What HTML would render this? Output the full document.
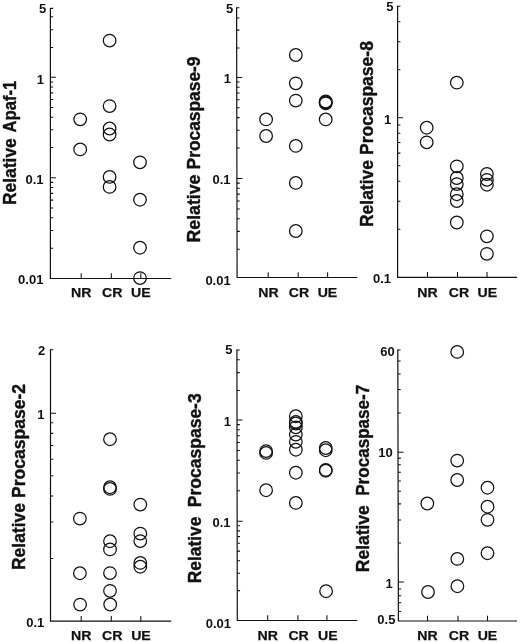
<!DOCTYPE html>
<html lang="en">
<head>
<meta charset="utf-8">
<title>Relative protein expression by response group</title>
<style>
html,body{margin:0;padding:0;background:#fff;}
body{width:520px;height:642px;overflow:hidden;}
svg{display:block;will-change:transform;}
svg text{font-family:"Liberation Sans", Arial, Helvetica, sans-serif;font-weight:bold;fill:#111;stroke:#111;stroke-width:0.25;}
svg text.tk{stroke-width:0;}
svg text.ti{stroke-width:0.4;}
svg circle{fill:none;stroke:#111;stroke-width:1.25;}
</style>
</head>
<body>
<svg width="520" height="642" viewBox="0 0 520 642">
<rect width="520" height="642" fill="#fff"/>
<path d="M50.4 7.9L50.4 278.5H171.3" fill="none" stroke="#111" stroke-width="1.2" stroke-linejoin="miter"/>
<path d="M50.4 248.17h2.8M50.4 230.43h2.8M50.4 217.84h2.8M50.4 208.08h2.8M50.4 200.1h2.8M50.4 193.36h2.8M50.4 187.51h2.8M50.4 182.36h2.8M50.4 177.75h5.5M50.4 147.51h2.8M50.4 129.82h2.8M50.4 117.27h2.8M50.4 107.54h2.8M50.4 99.58h2.8M50.4 92.86h2.8M50.4 87.03h2.8M50.4 81.9h2.8M50.4 77.3h5.5M50.4 47.5h2.8M50.4 29.8h2.8M50.4 16.7h2.8M50.4 8.4h2.8" fill="none" stroke="#111" stroke-width="1.05"/>
<path d="M81.2 278.5v-5.3M111.3 278.5v-5.3M140.8 278.5v-5.3" fill="none" stroke="#111" stroke-width="1.05"/>
<text x="46.25" y="12.5" text-anchor="end" font-size="13" class="tk">5</text>
<text x="43.9" y="83.75" text-anchor="end" font-size="13" class="tk">1</text>
<text x="43.6" y="183.75" text-anchor="end" font-size="13" class="tk">0.1</text>
<text x="43.4" y="284.1" text-anchor="end" font-size="13" class="tk">0.01</text>
<text x="81.3" y="297.3" text-anchor="middle" font-size="13" textLength="20.4" lengthAdjust="spacingAndGlyphs">NR</text>
<text x="112.3" y="297.3" text-anchor="middle" font-size="13" textLength="20.4" lengthAdjust="spacingAndGlyphs">CR</text>
<text x="140.8" y="297.3" text-anchor="middle" font-size="13" textLength="19.6" lengthAdjust="spacingAndGlyphs">UE</text>
<text transform="translate(16.2 205.1) rotate(-90)" font-size="17.6" textLength="66.9" lengthAdjust="spacingAndGlyphs" class="ti">Relative</text>
<text transform="translate(16.2 132.5) rotate(-90)" font-size="17.6" textLength="51.9" lengthAdjust="spacingAndGlyphs" class="ti">Apaf-1</text>
<circle cx="109.6" cy="40.6" r="6.3"/>
<circle cx="109.6" cy="106.1" r="6.3"/>
<circle cx="109.6" cy="128.5" r="6.3"/>
<circle cx="109.6" cy="134.5" r="6.3"/>
<circle cx="109.6" cy="176.9" r="6.3"/>
<circle cx="109.6" cy="186.9" r="6.3"/>
<circle cx="80.2" cy="119.3" r="6.3"/>
<circle cx="80.2" cy="149.4" r="6.3"/>
<circle cx="140" cy="162.3" r="6.3"/>
<circle cx="140" cy="199.7" r="6.3"/>
<circle cx="140" cy="247.7" r="6.3"/>
<circle cx="140" cy="278.1" r="6.3"/>
<path d="M236.6 7.2L237.1 277.5H357.3" fill="none" stroke="#111" stroke-width="1.2" stroke-linejoin="miter"/>
<path d="M237.05 249.2h2.8M237.01 231.37h2.8M236.99 218.71h2.8M236.97 208.9h2.8M236.96 200.9h2.8M236.95 194.14h2.8M236.93 188.29h2.8M236.93 183.12h2.8M236.92 178.5h5.5M236.86 148.07h2.8M236.83 130.26h2.8M236.8 117.63h2.8M236.79 107.83h2.8M236.77 99.83h2.8M236.76 93.06h2.8M236.75 87.2h2.8M236.74 82.03h2.8M236.73 77.4h5.5M236.67 47.9h2.8M236.64 30.1h2.8M236.62 17.9h2.8M236.6 7.7h2.8" fill="none" stroke="#111" stroke-width="1.05"/>
<path d="M268.2 277.5v-5.3M298.2 277.5v-5.3M327.6 277.5v-5.3" fill="none" stroke="#111" stroke-width="1.05"/>
<text x="233.3" y="12.5" text-anchor="end" font-size="13" class="tk">5</text>
<text x="230.9" y="83.3" text-anchor="end" font-size="13" class="tk">1</text>
<text x="230.5" y="184.4" text-anchor="end" font-size="13" class="tk">0.1</text>
<text x="230.7" y="284.7" text-anchor="end" font-size="13" class="tk">0.01</text>
<text x="268.4" y="297.3" text-anchor="middle" font-size="13" textLength="20.4" lengthAdjust="spacingAndGlyphs">NR</text>
<text x="299" y="297.3" text-anchor="middle" font-size="13" textLength="20.4" lengthAdjust="spacingAndGlyphs">CR</text>
<text x="327.5" y="297.3" text-anchor="middle" font-size="13" textLength="19.6" lengthAdjust="spacingAndGlyphs">UE</text>
<text transform="translate(199.7 242.4) rotate(-90)" font-size="17.6" textLength="67.8" lengthAdjust="spacingAndGlyphs" class="ti">Relative</text>
<text transform="translate(199.7 169.4) rotate(-90)" font-size="17.6" textLength="112.9" lengthAdjust="spacingAndGlyphs" class="ti">Procaspase-9</text>
<circle cx="295.8" cy="55" r="6.3"/>
<circle cx="295.8" cy="83.3" r="6.3"/>
<circle cx="295.8" cy="100.6" r="6.3"/>
<circle cx="295.8" cy="145.9" r="6.3"/>
<circle cx="295.8" cy="182.9" r="6.3"/>
<circle cx="295.8" cy="231" r="6.3"/>
<circle cx="266.1" cy="119.4" r="6.3"/>
<circle cx="266.1" cy="136" r="6.3"/>
<circle cx="325.7" cy="101.5" r="6.3"/>
<circle cx="325.7" cy="102.4" r="6.3"/>
<circle cx="325.7" cy="103.3" r="6.3"/>
<circle cx="325.7" cy="119.4" r="6.3"/>
<path d="M397.6 5.8L397.6 277.4H517" fill="none" stroke="#111" stroke-width="1.2" stroke-linejoin="miter"/>
<path d="M397.6 229.33h2.8M397.6 201.2h2.8M397.6 181.25h2.8M397.6 165.77h2.8M397.6 153.13h2.8M397.6 142.44h2.8M397.6 133.18h2.8M397.6 125.01h2.8M397.6 117.7h5.5M397.6 69.72h2.8M397.6 41.66h2.8M397.6 21.75h2.8M397.6 6.3h2.8" fill="none" stroke="#111" stroke-width="1.05"/>
<path d="M427.5 277.4v-5.3M457.5 277.4v-5.3M487 277.4v-5.3" fill="none" stroke="#111" stroke-width="1.05"/>
<text x="393.6" y="11.2" text-anchor="end" font-size="13" class="tk">5</text>
<text x="391.3" y="124" text-anchor="end" font-size="13" class="tk">1</text>
<text x="391" y="283.3" text-anchor="end" font-size="13" class="tk">0.1</text>
<text x="427.4" y="297.4" text-anchor="middle" font-size="13" textLength="20.4" lengthAdjust="spacingAndGlyphs">NR</text>
<text x="458.9" y="297.4" text-anchor="middle" font-size="13" textLength="20.4" lengthAdjust="spacingAndGlyphs">CR</text>
<text x="487.4" y="297.4" text-anchor="middle" font-size="13" textLength="19.6" lengthAdjust="spacingAndGlyphs">UE</text>
<text transform="translate(373.4 227) rotate(-90)" font-size="17.6" textLength="66.9" lengthAdjust="spacingAndGlyphs" class="ti">Relative</text>
<text transform="translate(373.4 155) rotate(-90)" font-size="17.6" textLength="113.9" lengthAdjust="spacingAndGlyphs" class="ti">Procaspase-8</text>
<circle cx="456.8" cy="82.7" r="6.3"/>
<circle cx="456.8" cy="166.3" r="6.3"/>
<circle cx="456.8" cy="178" r="6.3"/>
<circle cx="456.8" cy="184.1" r="6.3"/>
<circle cx="456.8" cy="194.2" r="6.3"/>
<circle cx="456.8" cy="201" r="6.3"/>
<circle cx="456.8" cy="222.5" r="6.3"/>
<circle cx="426.7" cy="127.7" r="6.3"/>
<circle cx="426.7" cy="142.3" r="6.3"/>
<circle cx="486.9" cy="174" r="6.3"/>
<circle cx="486.9" cy="179.8" r="6.3"/>
<circle cx="486.9" cy="184.7" r="6.3"/>
<circle cx="486.9" cy="236.3" r="6.3"/>
<circle cx="486.9" cy="253.8" r="6.3"/>
<path d="M50.5 349.3L50.5 621.2H171.3" fill="none" stroke="#111" stroke-width="1.2" stroke-linejoin="miter"/>
<path d="M50.5 558.59h2.8M50.5 521.96h2.8M50.5 495.97h2.8M50.5 475.81h2.8M50.5 459.34h2.8M50.5 445.42h2.8M50.5 433.36h2.8M50.5 422.72h2.8M50.5 413.2h5.5M50.5 349.8h2.8" fill="none" stroke="#111" stroke-width="1.05"/>
<path d="M81.2 621.2v-5.3M111.3 621.2v-5.3M140.8 621.2v-5.3" fill="none" stroke="#111" stroke-width="1.05"/>
<text x="45.2" y="355.2" text-anchor="end" font-size="13" class="tk">2</text>
<text x="44.6" y="419.1" text-anchor="end" font-size="13" class="tk">1</text>
<text x="44.3" y="626.7" text-anchor="end" font-size="13" class="tk">0.1</text>
<text x="81.3" y="640.4" text-anchor="middle" font-size="13" textLength="20.4" lengthAdjust="spacingAndGlyphs">NR</text>
<text x="112.3" y="640.4" text-anchor="middle" font-size="13" textLength="20.4" lengthAdjust="spacingAndGlyphs">CR</text>
<text x="141" y="640.4" text-anchor="middle" font-size="13" textLength="19.6" lengthAdjust="spacingAndGlyphs">UE</text>
<text transform="translate(24.9 570) rotate(-90)" font-size="17.6" textLength="66.9" lengthAdjust="spacingAndGlyphs" class="ti">Relative</text>
<text transform="translate(24.9 498) rotate(-90)" font-size="17.6" textLength="114.1" lengthAdjust="spacingAndGlyphs" class="ti">Procaspase-2</text>
<circle cx="110" cy="439.2" r="6.3"/>
<circle cx="110" cy="487.2" r="6.3"/>
<circle cx="110" cy="488.9" r="6.3"/>
<circle cx="110" cy="541.2" r="6.3"/>
<circle cx="110" cy="549.4" r="6.3"/>
<circle cx="110" cy="573.1" r="6.3"/>
<circle cx="110" cy="590.8" r="6.3"/>
<circle cx="110.2" cy="604.5" r="6.3"/>
<circle cx="79.9" cy="518.6" r="6.3"/>
<circle cx="79.9" cy="573.2" r="6.3"/>
<circle cx="80.1" cy="604.6" r="6.3"/>
<circle cx="140.3" cy="504.6" r="6.3"/>
<circle cx="140.3" cy="533.6" r="6.3"/>
<circle cx="140.3" cy="541.1" r="6.3"/>
<circle cx="140.3" cy="562.9" r="6.3"/>
<circle cx="140.3" cy="566.7" r="6.3"/>
<path d="M236.9 349.4L237.3 620.5H357.2" fill="none" stroke="#111" stroke-width="1.2" stroke-linejoin="miter"/>
<path d="M237.26 590.62h2.8M237.23 573.15h2.8M237.21 560.75h2.8M237.2 551.13h2.8M237.19 543.27h2.8M237.18 536.62h2.8M237.17 530.87h2.8M237.16 525.79h2.8M237.15 521.25h5.5M237.11 490.77h2.8M237.08 472.94h2.8M237.06 460.29h2.8M237.05 450.48h2.8M237.04 442.46h2.8M237.03 435.68h2.8M237.02 429.81h2.8M237.01 424.63h2.8M237 420h5.5M236.96 390.5h2.8M236.93 372.6h2.8M236.91 359.7h2.8M236.9 349.9h2.8" fill="none" stroke="#111" stroke-width="1.05"/>
<path d="M267.7 620.5v-5.3M297.9 620.5v-5.3M326.9 620.5v-5.3" fill="none" stroke="#111" stroke-width="1.05"/>
<text x="232.6" y="354.1" text-anchor="end" font-size="13" class="tk">5</text>
<text x="231.1" y="425.8" text-anchor="end" font-size="13" class="tk">1</text>
<text x="230.5" y="527.25" text-anchor="end" font-size="13" class="tk">0.1</text>
<text x="231" y="627.5" text-anchor="end" font-size="13" class="tk">0.01</text>
<text x="267.7" y="640.3" text-anchor="middle" font-size="13" textLength="20.4" lengthAdjust="spacingAndGlyphs">NR</text>
<text x="298.6" y="640.3" text-anchor="middle" font-size="13" textLength="20.4" lengthAdjust="spacingAndGlyphs">CR</text>
<text x="327.9" y="640.3" text-anchor="middle" font-size="13" textLength="19.6" lengthAdjust="spacingAndGlyphs">UE</text>
<text transform="translate(201.4 583.3) rotate(-90)" font-size="17.6" textLength="66.6" lengthAdjust="spacingAndGlyphs" class="ti">Relative</text>
<text transform="translate(201.4 507.2) rotate(-90)" font-size="17.6" textLength="113.9" lengthAdjust="spacingAndGlyphs" class="ti">Procaspase-3</text>
<circle cx="295.85" cy="416.2" r="6.3"/>
<circle cx="295.85" cy="421.8" r="6.3"/>
<circle cx="295.85" cy="423.5" r="6.3"/>
<circle cx="295.85" cy="427.3" r="6.3"/>
<circle cx="295.85" cy="434.6" r="6.3"/>
<circle cx="295.85" cy="441.8" r="6.3"/>
<circle cx="295.85" cy="449.7" r="6.3"/>
<circle cx="295.85" cy="472.7" r="6.3"/>
<circle cx="295.85" cy="502.9" r="6.3"/>
<circle cx="266.1" cy="451.1" r="6.3"/>
<circle cx="266.1" cy="452.9" r="6.3"/>
<circle cx="266.1" cy="490.2" r="6.3"/>
<circle cx="325.75" cy="448" r="6.3"/>
<circle cx="325.75" cy="450.2" r="6.3"/>
<circle cx="325.75" cy="469.9" r="6.3"/>
<circle cx="325.75" cy="470.7" r="6.3"/>
<circle cx="326.1" cy="591.2" r="6.3"/>
<path d="M397.8 349.4L398.4 621H517" fill="none" stroke="#111" stroke-width="1.2" stroke-linejoin="miter"/>
<path d="M398.38 611.4h2.8M398.36 602.8h2.8M398.34 595.7h2.8M398.33 589h2.8M398.31 582h5.5M398.23 542.93h2.8M398.18 520.07h2.8M398.14 503.85h2.8M398.11 491.27h2.8M398.09 481h2.8M398.07 472.31h2.8M398.05 464.78h2.8M398.04 458.14h2.8M398.03 452.2h5.5M397.94 412.9h2.8M397.89 389.5h2.8M397.85 373.9h2.8M397.82 361h2.8M397.8 349.9h2.8" fill="none" stroke="#111" stroke-width="1.05"/>
<path d="M427.5 621v-5.3M458 621v-5.3M487.5 621v-5.3" fill="none" stroke="#111" stroke-width="1.05"/>
<text x="394.7" y="356.2" text-anchor="end" font-size="13" class="tk">60</text>
<text x="392.8" y="457.4" text-anchor="end" font-size="13" class="tk">10</text>
<text x="392.7" y="587.7" text-anchor="end" font-size="13" class="tk">1</text>
<text x="395.4" y="624" text-anchor="end" font-size="13" class="tk">0.5</text>
<text x="427.5" y="640" text-anchor="middle" font-size="13" textLength="20.4" lengthAdjust="spacingAndGlyphs">NR</text>
<text x="459" y="640" text-anchor="middle" font-size="13" textLength="20.4" lengthAdjust="spacingAndGlyphs">CR</text>
<text x="487.5" y="640" text-anchor="middle" font-size="13" textLength="19.6" lengthAdjust="spacingAndGlyphs">UE</text>
<text transform="translate(369.2 572.2) rotate(-90)" font-size="17.6" textLength="67" lengthAdjust="spacingAndGlyphs" class="ti">Relative</text>
<text transform="translate(369.2 495.8) rotate(-90)" font-size="17.6" textLength="111.1" lengthAdjust="spacingAndGlyphs" class="ti">Procaspase-7</text>
<circle cx="457.2" cy="351.9" r="6.3"/>
<circle cx="457.2" cy="460.6" r="6.3"/>
<circle cx="457.2" cy="480" r="6.3"/>
<circle cx="457.3" cy="558.9" r="6.3"/>
<circle cx="457.4" cy="586.2" r="6.3"/>
<circle cx="427.3" cy="503.5" r="6.3"/>
<circle cx="428" cy="592" r="6.3"/>
<circle cx="487.5" cy="487.7" r="6.3"/>
<circle cx="487.5" cy="506.7" r="6.3"/>
<circle cx="487.5" cy="519.8" r="6.3"/>
<circle cx="487.5" cy="553.2" r="6.3"/>
</svg>
</body>
</html>
